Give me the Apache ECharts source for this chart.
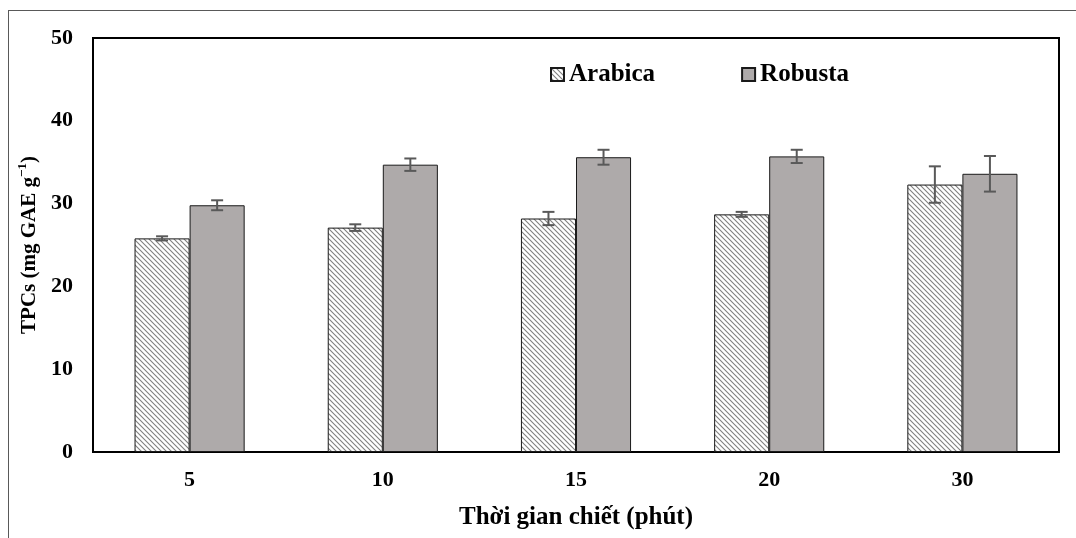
<!DOCTYPE html>
<html>
<head>
<meta charset="utf-8">
<script src="https://cdn.jsdelivr.net/npm/echarts@6/dist/echarts.min.js"></script>
<style>
  html, body { margin: 0; padding: 0; background: #fff; }
  #chart { width: 1076px; height: 538px; }
</style>
</head>
<body>
<div id="chart"></div>
<script>
// Extraction time (minutes) and total phenolic content per coffee variety
const categories = ['5', '10', '15', '20', '30'];
const arabica = [25.8, 27.1, 28.2, 28.7, 32.3];
const arabicaErr = [0.25, 0.4, 0.8, 0.3, 2.2];
const robusta = [29.8, 34.7, 35.6, 35.7, 33.6];
const robustaErr = [0.6, 0.75, 0.9, 0.8, 2.15];
const yTicks = [0, 10, 20, 30, 40, 50];

const FONT = '"Liberation Serif", "Times New Roman", serif';

// Diagonal hatch fill for the Arabica bars
function hatchPattern() {
  const c = document.createElement('canvas');
  c.width = 5; c.height = 5;
  const g = c.getContext('2d');
  g.fillStyle = '#ffffff';
  g.fillRect(0, 0, 5, 5);
  g.strokeStyle = '#808080';
  g.lineWidth = 1.1;
  g.beginPath();
  g.moveTo(-1, -1); g.lineTo(6, 6);
  g.moveTo(-6, -1); g.lineTo(1, 6);
  g.moveTo(4, -1); g.lineTo(11, 6);
  g.stroke();
  return { image: c, repeat: 'repeat' };
}

const chart = echarts.init(document.getElementById('chart'), null, { renderer: 'canvas' });

// Error bars drawn next to each bar of a given series (side -1 = left bar, +1 = right bar)
function errorBars(values, errs, side) {
  return {
    type: 'custom',
    z: 10,
    data: values.map((v, i) => [i, v, errs[i]]),
    encode: { x: 0, y: 1 },
    renderItem: function (params, api) {
      const idx = api.value(0);
      const v = api.value(1);
      const e = api.value(2);
      const bandW = api.size([1, 0])[0];
      const barW = bandW * 0.285;
      const center = api.coord([idx, v]);
      const x = center[0] + side * barW / 2;
      const top = api.coord([idx, v + e])[1];
      const bot = api.coord([idx, v - e])[1];
      const cap = 6;
      const style = { stroke: '#595959', lineWidth: 2 };
      return {
        type: 'group',
        children: [
          { type: 'line', shape: { x1: x, y1: top, x2: x, y2: bot }, style: style },
          { type: 'line', shape: { x1: x - cap, y1: top, x2: x + cap, y2: top }, style: style },
          { type: 'line', shape: { x1: x - cap, y1: bot, x2: x + cap, y2: bot }, style: style }
        ]
      };
    }
  };
}

const option = {
  animation: false,
  backgroundColor: '#ffffff',
  textStyle: { fontFamily: FONT },
  graphic: [
    // outer frame: top and left edges
    { type: 'line', shape: { x1: 8, y1: 10.5, x2: 1076, y2: 10.5 }, style: { stroke: '#595959', lineWidth: 1 } },
    { type: 'line', shape: { x1: 8.5, y1: 10, x2: 8.5, y2: 538 }, style: { stroke: '#595959', lineWidth: 1 } }
  ],
  grid: { left: 93, right: 17, top: 38, bottom: 86, show: true, borderColor: '#000', borderWidth: 2 },
  legend: {
    left: 545,
    top: 57,
    icon: 'rect',
    itemWidth: 13,
    itemHeight: 13,
    itemGap: 86,
    textStyle: { fontFamily: FONT, fontSize: 25, fontWeight: 'bold', color: '#000', padding: [0, 0, 0, 0] },
    data: ['Arabica', 'Robusta']
  },
  xAxis: {
    type: 'category',
    data: categories,
    axisLine: { show: true, lineStyle: { color: '#000', width: 2 } },
    axisTick: { show: false },
    axisLabel: { fontFamily: FONT, fontSize: 22, fontWeight: 'bold', color: '#000', margin: 17 },
    name: 'Thời gian chiết (phút)',
    nameLocation: 'middle',
    nameGap: 53,
    nameTextStyle: { fontFamily: FONT, fontSize: 25, fontWeight: 'bold', color: '#000' }
  },
  yAxis: {
    type: 'value',
    min: yTicks[0],
    max: yTicks[yTicks.length - 1],
    interval: 10,
    splitLine: { show: false },
    axisLine: { show: true, lineStyle: { color: '#000', width: 2 } },
    axisTick: { show: false },
    axisLabel: { fontFamily: FONT, fontSize: 22, fontWeight: 'bold', color: '#000', margin: 20 },
    name: '{n|TPCs (mg GAE g}{s|−1}{n|)}',
    nameLocation: 'middle',
    nameRotate: 90,
    nameGap: 52,
    nameTextStyle: {
      color: '#000',
      rich: {
        n: { fontFamily: FONT, fontSize: 21, fontWeight: 'bold', color: '#000', lineHeight: 24, verticalAlign: 'bottom' },
        s: { fontFamily: FONT, fontSize: 13, fontWeight: 'bold', color: '#000', lineHeight: 24, verticalAlign: 'top', padding: [0, 0, 10, 0] }
      }
    }
  },
  series: [
    {
      name: 'Arabica',
      type: 'bar',
      data: arabica,
      barWidth: '28.5%',
      barGap: '0%',
      itemStyle: { color: hatchPattern(), borderColor: '#1a1a1a', borderWidth: 1 }
    },
    {
      name: 'Robusta',
      type: 'bar',
      data: robusta,
      barWidth: '28.5%',
      barGap: '0%',
      itemStyle: { color: '#aeaaaa', borderColor: '#1a1a1a', borderWidth: 1 }
    },
    errorBars(arabica, arabicaErr, -1),
    errorBars(robusta, robustaErr, 1)
  ]
};

chart.setOption(option);
</script>
</body>
</html>
